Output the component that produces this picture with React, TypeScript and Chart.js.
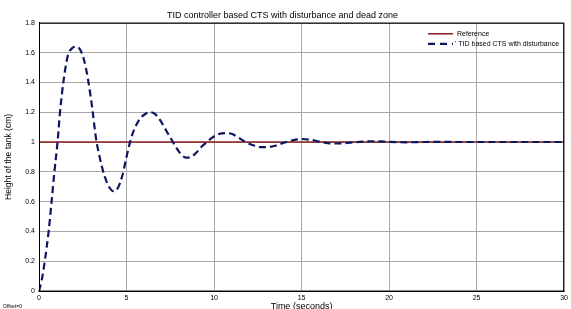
import React, { useEffect, useRef } from "react";
import { Chart, registerables } from "chart.js";

Chart.register(...registerables);

const chartTitle = "TID controller based CTS with disturbance and dead zone";
const xTitle = "Time (seconds)";
const yTitle = "Height of the tank (cm)";
const refLabel = "Reference";
const tidLabel = "TID based CTS with disturbance";

const refTimes = [0, 30];
const refValues = [1, 1];

const tidTimes = [
  0, 0.15, 0.33, 0.55, 0.72, 0.88, 1.06, 1.2, 1.39, 1.65, 1.9, 2.15, 2.35, 2.55, 2.8, 3.05, 3.25, 3.5,
  3.75, 4.0, 4.25, 4.5, 4.75, 5.0, 5.25, 5.5, 5.8, 6.1, 6.35, 6.6, 6.9, 7.2, 7.5, 7.8, 8.1, 8.4, 8.7,
  9.0, 9.3, 9.6, 9.9, 10.2, 10.6, 11.0, 11.4, 11.8, 12.2, 12.6, 13.0, 13.5, 14.0, 14.5, 15.0, 15.5,
  16.0, 16.5, 17.0, 17.5, 18.0, 18.5, 19.0, 19.5, 20, 21, 22, 23, 24, 26, 28, 30,
];
const tidValues = [
  0, 0.07, 0.2, 0.4, 0.6, 0.8, 1.0, 1.2, 1.4, 1.58, 1.63, 1.64, 1.62, 1.56, 1.42, 1.22, 1.03, 0.88,
  0.77, 0.7, 0.67, 0.69, 0.77, 0.9, 1.02, 1.1, 1.16, 1.19, 1.2, 1.19, 1.15, 1.09, 1.03, 0.97, 0.92,
  0.895, 0.9, 0.93, 0.97, 1.0, 1.03, 1.05, 1.06, 1.055, 1.03, 1.0, 0.98, 0.966, 0.965, 0.975, 0.995,
  1.012, 1.02, 1.015, 1.003, 0.993, 0.99, 0.992, 0.998, 1.003, 1.005, 1.004, 1.001, 0.998, 1.0, 1.001,
  1.0, 1.0, 1.0, 1.0,
];

const xMin = 0;
const xMax = 30;
const xStep = 5;
const yMin = 0;
const yMax = 1.8;
const yStep = 0.2;

const FONT = "'Liberation Sans', Arial, sans-serif";
const REF_COLOR = "#8b1c1c";
const TID_COLOR = "#0c1660";

const decorPlugin = {
  id: "decor",
  afterDatasetsDraw(chart: any) {
    const { ctx, chartArea } = chart;
    ctx.save();
    ctx.strokeStyle = "#000";
    ctx.lineWidth = 1;
    ctx.strokeRect(chartArea.left + 0.5, chartArea.top + 0.5, chartArea.right - chartArea.left - 1, chartArea.bottom - chartArea.top);
    const lx0 = chartArea.left + 389;
    const lx1 = lx0 + 25;
    const ty = chartArea.top + 11;
    ctx.strokeStyle = REF_COLOR;
    ctx.lineWidth = 1.5;
    ctx.beginPath();
    ctx.moveTo(lx0, ty);
    ctx.lineTo(lx1, ty);
    ctx.stroke();
    ctx.strokeStyle = TID_COLOR;
    ctx.lineWidth = 2.2;
    ctx.setLineDash([7, 5]);
    ctx.beginPath();
    ctx.moveTo(lx0, ty + 10);
    ctx.lineTo(lx1, ty + 10);
    ctx.stroke();
    ctx.setLineDash([]);
    ctx.fillStyle = "#000";
    ctx.font = `7px ${FONT}`;
    ctx.textBaseline = "middle";
    ctx.textAlign = "left";
    ctx.fillText(refLabel, lx1 + 4, ty);
    ctx.fillText("' " + tidLabel, lx1 + 2, ty + 10);
    ctx.font = `5px ${FONT}`;
    ctx.fillText("Offset=0", 3, chart.height - 2);
    ctx.restore();
  },
};

export default function App() {
  const canvasRef = useRef<HTMLCanvasElement | null>(null);

  useEffect(() => {
    document.body.style.margin = "0";
    const canvas = canvasRef.current;
    if (!canvas) return;
    const chart = new Chart(canvas, {
      type: "line",
      data: {
        datasets: [
          {
            label: refLabel,
            data: refTimes.map((t, i) => ({ x: t, y: refValues[i] })),
            borderColor: REF_COLOR,
            borderWidth: 1.5,
            pointRadius: 0,
            fill: false,
            order: 2,
          },
          {
            label: tidLabel,
            data: tidTimes.map((t, i) => ({ x: t, y: tidValues[i] })),
            borderColor: TID_COLOR,
            borderWidth: 2.2,
            borderDash: [7, 4],
            pointRadius: 0,
            fill: false,
            cubicInterpolationMode: "monotone",
            order: 1,
          },
        ],
      },
      options: {
        animation: false,
        responsive: false,
        devicePixelRatio: 1,
        layout: { padding: { left: 0, right: 6, top: 0, bottom: 0 } },
        plugins: {
          legend: { display: false },
          tooltip: { enabled: false },
          title: {
            display: true,
            text: chartTitle,
            color: "#000",
            font: { family: FONT, size: 9, weight: "normal", lineHeight: 1.2 },
            padding: { top: 10, bottom: 2 },
          },
        },
        scales: {
          x: {
            type: "linear",
            min: xMin,
            max: xMax,
            ticks: {
              stepSize: xStep,
              color: "#000",
              font: { family: FONT, size: 7 },
              padding: 3,
              maxRotation: 0,
            },
            grid: { color: "#a8a8a8", lineWidth: 1, drawTicks: false },
            border: { display: true, color: "#888", width: 2 },
            title: {
              display: true,
              text: xTitle,
              color: "#000",
              font: { family: FONT, size: 9, lineHeight: 1.2 },
              padding: { top: 0, bottom: -3 },
            },
            afterFit(scale: any) {
              scale.height = 18;
            },
          },
          y: {
            type: "linear",
            min: yMin,
            max: yMax,
            ticks: {
              stepSize: yStep,
              color: "#000",
              font: { family: FONT, size: 7 },
              padding: 4,
              callback: (v: any) => String(Math.round(Number(v) * 10) / 10),
            },
            grid: { color: "#a8a8a8", lineWidth: 1, drawTicks: false },
            border: { display: true, color: "#000", width: 1 },
            title: {
              display: true,
              text: yTitle,
              color: "#000",
              font: { family: FONT, size: 8.5, lineHeight: 1.2 },
              padding: { top: 4, bottom: 0 },
            },
            afterFit(scale: any) {
              scale.width = 39;
            },
          },
        },
      },
      plugins: [decorPlugin],
    });
    return () => chart.destroy();
  }, []);

  return (
    <div style={{ position: "absolute", left: 0, top: 0, width: 571, height: 309, background: "#fff" }}>
      <canvas ref={canvasRef} width={571} height={309} style={{ width: 571, height: 309, display: "block" }} />
    </div>
  );
}
